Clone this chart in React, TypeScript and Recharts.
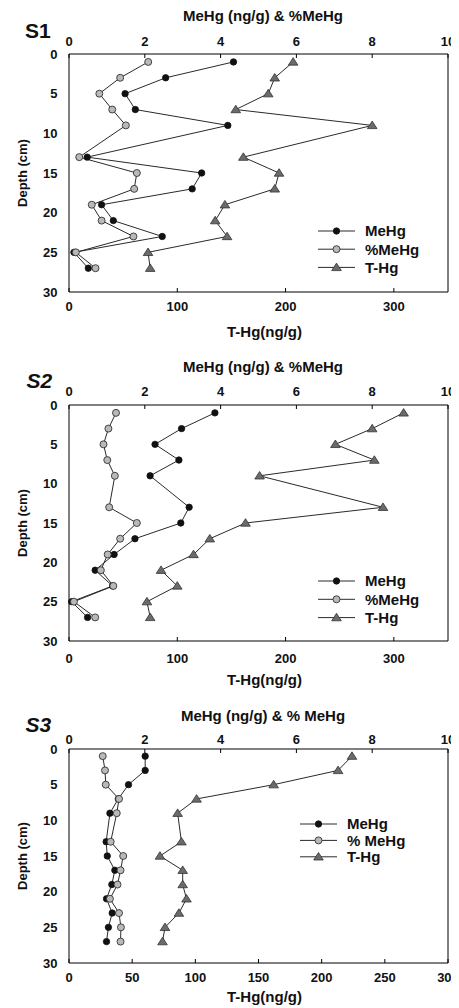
import React from 'react';
import { ComposedChart, Line, XAxis, YAxis, Legend, Label } from 'recharts';

const depths = [1, 3, 5, 7, 9, 13, 15, 17, 19, 21, 23, 25, 27];
const depthTicks = [0, 5, 10, 15, 20, 25, 30];
const meHgTicks = [0, 2, 4, 6, 8, 10];
const thgTicksA = [0, 100, 200, 300];
const thgTicksB = [0, 50, 100, 150, 200, 250, 300];

const s1MeHg = [4.34, 2.55, 1.48, 1.75, 4.19, 0.48, 3.5, 3.25, 0.86, 1.17, 2.46, 0.13, 0.51];
const s1PctMeHg = [2.09, 1.35, 0.8, 1.14, 1.5, 0.27, 1.79, 1.72, 0.6, 0.86, 1.7, 0.18, 0.7];
const s1THg = [207, 190, 184, 154, 280, 161, 194, 190, 144, 135, 146, 73, 75];

const s2MeHg = [3.85, 2.97, 2.27, 2.9, 2.14, 3.17, 2.95, 1.74, 1.19, 0.69, 1.15, 0.07, 0.49];
const s2PctMeHg = [1.24, 1.04, 0.91, 1.01, 1.21, 1.06, 1.79, 1.35, 1.02, 0.84, 1.17, 0.13, 0.69];
const s2THg = [309, 280, 246, 282, 176, 290, 163, 130, 115, 85, 100, 72, 75];

const s3MeHg = [2.01, 2.01, 1.57, 1.3, 1.08, 0.98, 1.01, 1.21, 1.13, 0.99, 1.14, 1.04, 0.99];
const s3PctMeHg = [0.89, 0.95, 0.97, 1.32, 1.26, 1.1, 1.43, 1.36, 1.28, 1.08, 1.32, 1.37, 1.36];
const s3THg = [224, 213, 162, 101, 86, 89, 72, 90, 90, 93, 87, 76, 74];

const FONT = 'Arial, sans-serif';
const LINE = '#2a2a2a';

const blackDot = { r: 3.2, fill: '#111', stroke: '#111', strokeWidth: 0.8 };
const grayDot = { r: 3.5, fill: '#b9b9b9', stroke: '#333', strokeWidth: 0.9 };

const TriDot = (p: any) => {
  if (p.cx == null || p.cy == null) return null;
  const { cx, cy } = p;
  return (
    <path
      d={`M${cx},${cy - 4.3} L${cx + 4.8},${cy + 3.2} L${cx - 4.8},${cy + 3.2} Z`}
      fill="#6b6b6b"
      stroke="#333"
      strokeWidth={0.8}
    />
  );
};

const LegendBox = ({ names, rowH }: { names: string[]; rowH: number }) => (
  <svg width={150} height={rowH * 2 + 14} style={{ display: 'block', overflow: 'visible' }}>
    {names.map((n, i) => {
      const y = 7 + i * rowH;
      return (
        <g key={n}>
          <path d={`M0,${y} L37,${y}`} stroke={LINE} strokeWidth={1} fill="none" />
          {i === 0 && <circle cx={18.5} cy={y} r={3.2} fill="#111" stroke="#111" strokeWidth={0.8} />}
          {i === 1 && <circle cx={18.5} cy={y} r={3.5} fill="#b9b9b9" stroke="#333" strokeWidth={0.9} />}
          {i === 2 && <TriDot cx={18.5} cy={y} />}
          <text x={47} y={y} dy="0.36em" fontFamily={FONT} fontWeight="bold" fontSize={15} fill="#111">
            {n}
          </text>
        </g>
      );
    })}
  </svg>
);

type PanelProps = {
  tag: string;
  tagDx: number;
  tagDy: number;
  tagItalic: boolean;
  height: number;
  topAxisH: number;
  botAxisH: number;
  meHg: number[];
  pct: number[];
  thg: number[];
  thgMax: number;
  thgTicks: number[];
  topTickMargin: number;
  botTickMargin: number;
  titleOffset: number;
  xLabelOffset: number;
  title: string;
  pctName: string;
  legendLeft: number;
  legendTop: number;
  legendRowH: number;
};

const tickStyle = { fontFamily: FONT, fontWeight: 'bold' as const, fontSize: 13, fill: '#111' };

// The page body has an 8px margin: each chart is 451 px wide, so the plot spans page x 69..448.
const Panel = (p: PanelProps) => {
  const data = depths.map((d, i) => ({ depth: d, meHg: p.meHg[i], pct: p.pct[i], thg: p.thg[i] }));
  return (
    <ComposedChart
      layout="vertical"
      width={451}
      height={p.height}
      data={data}
      margin={{ top: 0, right: 10, bottom: 0, left: 0 }}
    >
      <YAxis
        yAxisId="d"
        type="number"
        dataKey="depth"
        domain={[0, 30]}
        ticks={depthTicks}
        interval={0}
        width={61}
        tickSize={0}
        tickMargin={11.5}
        tickLine={false}
        stroke="#000"
        tick={tickStyle}
      >
        <Label
          value="Depth (cm)"
          angle={-90}
          position="insideLeft"
          offset={14}
          style={{ textAnchor: 'middle', fontFamily: FONT, fontWeight: 'bold', fontSize: 13, fill: '#111' }}
        />
      </YAxis>
      <YAxis
        yAxisId="r"
        orientation="right"
        type="number"
        domain={[0, 30]}
        ticks={depthTicks}
        width={1}
        tick={false}
        tickLine={false}
        stroke="#000"
      />
      <XAxis
        xAxisId="top"
        orientation="top"
        type="number"
        domain={[0, 10]}
        ticks={meHgTicks}
        interval={0}
        height={p.topAxisH}
        tickSize={-4}
        tickMargin={p.topTickMargin}
        stroke="#000"
        tick={tickStyle}
      >
        <Label
          value={p.title}
          position="insideTop"
          offset={p.titleOffset}
          dx={4.5}
          style={{ fontFamily: FONT, fontWeight: 'bold', fontSize: 15, fill: '#111' }}
        />
        <Label
          value={p.tag}
          position="insideTopLeft"
          offset={0}
          dx={p.tagDx}
          dy={p.tagDy}
          style={{
            fontFamily: FONT,
            fontWeight: 'bold',
            fontSize: 21,
            fontStyle: p.tagItalic ? 'italic' : 'normal',
            fill: '#111',
          }}
        />
      </XAxis>
      <XAxis
        xAxisId="bot"
        orientation="bottom"
        type="number"
        domain={[0, p.thgMax]}
        ticks={p.thgTicks}
        interval={0}
        height={p.botAxisH}
        tickSize={-4}
        tickMargin={p.botTickMargin}
        stroke="#000"
        tick={tickStyle}
      >
        <Label
          value="T-Hg(ng/g)"
          position="insideBottom"
          offset={p.xLabelOffset}
          dx={6}
          style={{ fontFamily: FONT, fontWeight: 'bold', fontSize: 15, fill: '#111' }}
        />
      </XAxis>
      <Line name="MeHg" dataKey="meHg" xAxisId="top" yAxisId="d" stroke={LINE} dot={blackDot} isAnimationActive={false} />
      <Line name={p.pctName} dataKey="pct" xAxisId="top" yAxisId="d" stroke={LINE} dot={grayDot} isAnimationActive={false} />
      <Line name="T-Hg" dataKey="thg" xAxisId="bot" yAxisId="d" stroke={LINE} dot={<TriDot />} isAnimationActive={false} />
      <Legend
        layout="vertical"
        align="center"
        verticalAlign="middle"
        wrapperStyle={{ position: 'absolute', left: p.legendLeft, top: p.legendTop, width: 150 }}
        content={() => <LegendBox names={['MeHg', p.pctName, 'T-Hg']} rowH={p.legendRowH} />}
      />
    </ComposedChart>
  );
};

export default function App() {
  return (
    <div>
      <Panel tag="S1" tagDx={-44} tagDy={14.7} tagItalic={false} height={332} topAxisH={46} botAxisH={48}
        meHg={s1MeHg} pct={s1PctMeHg} thg={s1THg} thgMax={350} thgTicks={thgTicksA} topTickMargin={11.7}
        botTickMargin={14} titleOffset={2} xLabelOffset={3.3} title="MeHg (ng/g) & %MeHg" pctName="%MeHg"
        legendLeft={310} legendTop={216} legendRowH={18.2} />
      <Panel tag="S2" tagDx={-42.5} tagDy={33.3} tagItalic={true} height={350} topAxisH={65} botAxisH={49}
        meHg={s2MeHg} pct={s2PctMeHg} thg={s2THg} thgMax={350} thgTicks={thgTicksA} topTickMargin={12.7}
        botTickMargin={16.7} titleOffset={21.7} xLabelOffset={5} title="MeHg (ng/g) & %MeHg" pctName="%MeHg"
        legendLeft={310} legendTop={233.7} legendRowH={18.3} />
      <Panel tag="S3" tagDx={-43.5} tagDy={27.3} tagItalic={true} height={318} topAxisH={59} botAxisH={45}
        meHg={s3MeHg} pct={s3PctMeHg} thg={s3THg} thgMax={300} thgTicks={thgTicksB} topTickMargin={9.4}
        botTickMargin={13.3} titleOffset={20} xLabelOffset={6.3} title="MeHg (ng/g) & % MeHg" pctName="% MeHg"
        legendLeft={292} legendTop={127} legendRowH={16.4} />
    </div>
  );
}
